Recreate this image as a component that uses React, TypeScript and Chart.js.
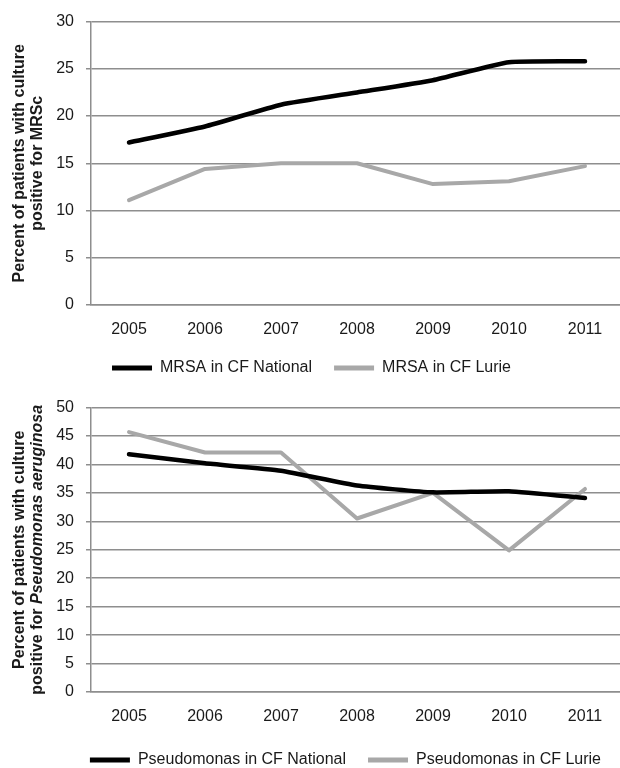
import React, { useEffect, useRef } from "react";
import { Chart, registerables } from "chart.js";

Chart.register(...registerables);

// ---------- data ----------
const years = ["2005", "2006", "2007", "2008", "2009", "2010", "2011"];

const mrsaNational = [17.2, 18.9, 21.2, 22.5, 23.8, 25.7, 25.8];
const mrsaLurie = [11.1, 14.4, 15.0, 15.0, 12.8, 13.1, 14.7];

const pseudoNational = [41.8, 40.2, 38.9, 36.3, 35.1, 35.3, 34.1];
const pseudoLurie = [45.7, 42.1, 42.1, 30.5, 35.0, 24.9, 35.7];

const mrsaSeriesNames = ["MRSA in CF National", "MRSA in CF Lurie"];
const pseudoSeriesNames = ["Pseudomonas in CF National", "Pseudomonas in CF Lurie"];

const mrsaAxis = { min: 0, max: 30, step: 5 };
const pseudoAxis = { min: 0, max: 50, step: 5 };

type Seg = { text: string; italic?: boolean };
const mrsaTitle: Seg[][] = [
  [{ text: "Percent of patients with culture" }],
  [{ text: "positive for MRSc" }],
];
const pseudoTitle: Seg[][] = [
  [{ text: "Percent of patients with culture" }],
  [{ text: "positive for " }, { text: "Pseudomonas aeruginosa", italic: true }],
];

// ---------- styles ----------
const FONT = "'Liberation Sans', Arial, Helvetica, sans-serif";
const TEXT = "#1a1a1a";
const GRID = "#8e8e8e";
const BLACK = "#000000";
const GRAY = "#a8a8a8";

const yTitlePlugin = {
  id: "yTitle",
  afterDraw(chart: any, _args: any, opts: any) {
    const { ctx, chartArea } = chart;
    const lines: Seg[][] = opts.lines || [];
    const cy = (chartArea.top + chartArea.bottom) / 2;
    const fontOf = (s: Seg) =>
      `${s.italic ? "italic " : ""}bold ${opts.size}px ${FONT}`;
    lines.forEach((segs, i) => {
      const x = chartArea.left - opts.offsets[i];
      ctx.save();
      ctx.translate(x, cy);
      ctx.rotate(-Math.PI / 2);
      ctx.textBaseline = "middle";
      ctx.textAlign = "left";
      ctx.fillStyle = opts.color;
      const widths = segs.map((s) => {
        ctx.font = fontOf(s);
        return ctx.measureText(s.text).width;
      });
      const total = widths.reduce((a, b) => a + b, 0);
      let cx = -total / 2;
      segs.forEach((s, j) => {
        ctx.font = fontOf(s);
        ctx.fillText(s.text, cx, 0);
        cx += widths[j];
      });
      ctx.restore();
    });
  },
};

function makeConfig(p: {
  names: string[];
  national: number[];
  lurie: number[];
  axis: { min: number; max: number; step: number };
  title: Seg[][];
  padTop: number;
  xHeight: number;
  legendAlign: "center" | "end";
  legendPadding: number;
}): any {
  return {
    type: "line",
    data: {
      labels: years,
      datasets: [
        {
          label: p.names[0],
          data: p.national,
          borderColor: BLACK,
          backgroundColor: BLACK,
          borderWidth: 4.5,
          pointRadius: 0,
          tension: 0.15,
          borderCapStyle: "round",
          borderJoinStyle: "round",
          fill: false,
        },
        {
          label: p.names[1],
          data: p.lurie,
          borderColor: GRAY,
          backgroundColor: GRAY,
          borderWidth: 4,
          pointRadius: 0,
          tension: 0,
          borderCapStyle: "round",
          borderJoinStyle: "round",
          fill: false,
        },
      ],
    },
    options: {
      responsive: false,
      animation: false,
      layout: { padding: { top: p.padTop, right: 7, left: 0, bottom: 0 } },
      font: { family: FONT },
      scales: {
        x: {
          type: "category",
          offset: true,
          grid: { display: false, drawTicks: false },
          border: { display: true, color: GRID, width: 1.5 },
          ticks: {
            color: TEXT,
            padding: 15,
            font: { family: FONT, size: 16 },
            maxRotation: 0,
          },
          afterFit: (s: any) => {
            s.height = p.xHeight;
          },
        },
        y: {
          min: p.axis.min,
          max: p.axis.max,
          ticks: {
            stepSize: p.axis.step,
            color: TEXT,
            padding: 12,
            font: { family: FONT, size: 16 },
          },
          grid: { color: GRID, lineWidth: 1.5, tickLength: 5, drawTicks: true },
          border: { display: true, color: GRID, width: 1.5 },
          afterFit: (s: any) => {
            s.width = 91;
          },
        },
      },
      plugins: {
        legend: {
          display: true,
          position: "bottom",
          align: p.legendAlign,
          labels: {
            boxWidth: 40,
            boxHeight: 5,
            padding: p.legendPadding,
            color: TEXT,
            font: { family: FONT, size: 16 },
            generateLabels: (chart: any) =>
              Chart.defaults.plugins.legend.labels
                .generateLabels(chart)
                .map((l: any) => ({ ...l, lineWidth: 0 })),
          },
        },
        tooltip: { enabled: false },
        yTitle: {
          lines: p.title,
          offsets: [71, 53],
          size: 16,
          color: TEXT,
        },
      },
    },
    plugins: [yTitlePlugin],
  };
}

function LineChart(props: { config: any; width: number; height: number }) {
  const ref = useRef<HTMLCanvasElement | null>(null);
  useEffect(() => {
    if (!ref.current) return;
    const chart = new Chart(ref.current, props.config);
    return () => chart.destroy();
  }, []);
  return (
    <canvas
      ref={ref}
      width={props.width}
      height={props.height}
      style={{ display: "block", width: props.width, height: props.height }}
    />
  );
}

export default function App() {
  const topConfig = makeConfig({
    names: mrsaSeriesNames,
    national: mrsaNational,
    lurie: mrsaLurie,
    axis: mrsaAxis,
    title: mrsaTitle,
    padTop: 19,
    xHeight: 33,
    legendAlign: "center",
    legendPadding: 22,
  });
  const bottomConfig = makeConfig({
    names: pseudoSeriesNames,
    national: pseudoNational,
    lurie: pseudoLurie,
    axis: pseudoAxis,
    title: pseudoTitle,
    padTop: 18,
    xHeight: 38,
    legendAlign: "end",
    legendPadding: 22,
  });
  return (
    <div
      style={{
        position: "absolute",
        left: 0,
        top: 0,
        width: 620,
        height: 768,
        overflow: "hidden",
        background: "#ffffff",
      }}
    >
      <LineChart config={topConfig} width={630} height={386} />
      <LineChart config={bottomConfig} width={630} height={392} />
    </div>
  );
}
